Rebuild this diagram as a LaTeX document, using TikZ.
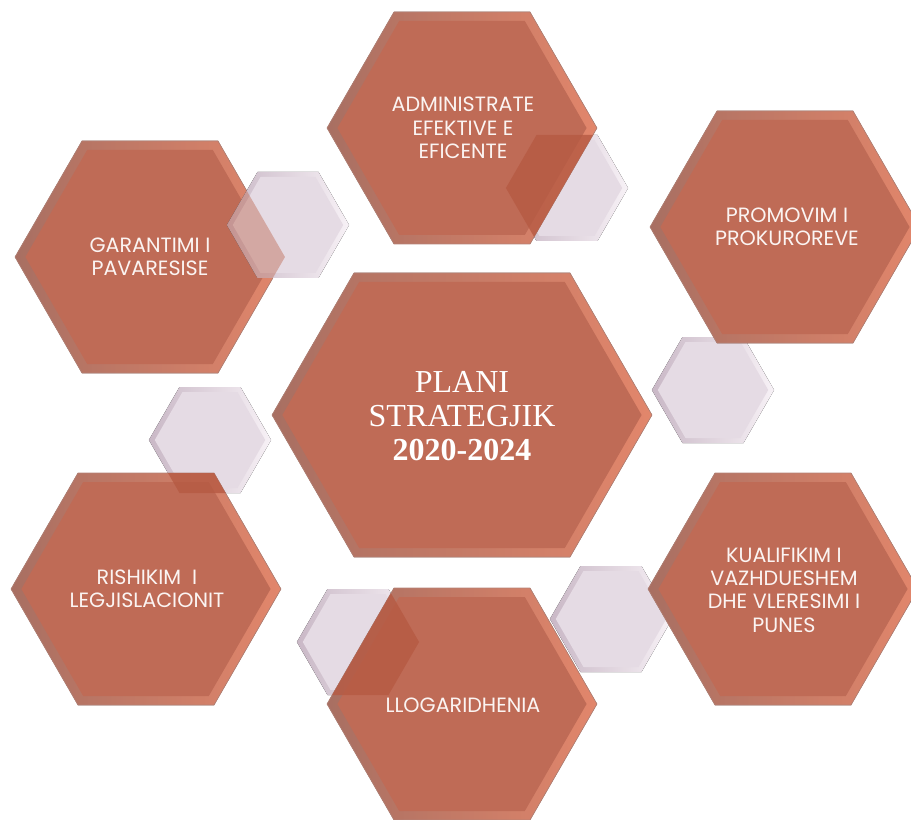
\documentclass[tikz,border=0pt]{standalone}
\usepackage{fontspec}
\setmainfont{Liberation Serif}
\newfontfamily\gothic{Poppins}
\definecolor{redMain}{HTML}{BF6B56}
\definecolor{redDark}{HTML}{A86F62}
\definecolor{redLight}{HTML}{E2866B}
\definecolor{redEdge}{HTML}{B48276}
\definecolor{ovlRed}{HTML}{B65A43}
\definecolor{lavMain}{HTML}{E5DBE4}
\definecolor{lavDark}{HTML}{C9B8C6}
\definecolor{lavLight}{HTML}{F7F1F6}
\definecolor{textW}{HTML}{FBF4F2}
% hexagon path: centre (cx,cy), half top edge a, half height hh
\newcommand\hexpath[4]{({#1-(#3)-0.57735*(#4)},{#2}) -- ({#1-(#3)},{#2-(#4)}) -- ({#1+(#3)},{#2-(#4)}) -- ({#1+(#3)+0.57735*(#4)},{#2}) -- ({#1+(#3)},{#2+(#4)}) -- ({#1-(#3)},{#2+(#4)}) -- cycle}
\newcommand\redhex[4]{%
  \fill[left color=redDark,right color=redLight] \hexpath{#1}{#2}{#3}{#4};
  \draw[redEdge,line width=0.5] \hexpath{#1}{#2}{#3}{#4};
  \fill[redMain] \hexpath{#1}{#2}{#3-5.2}{#4-9};
}
\newcommand\lavhex[2]{%
  \fill[left color=lavDark,right color=lavLight] \hexpath{#1}{#2}{30.5}{53};
  \fill[lavMain] \hexpath{#1}{#2}{27.5}{48};
}
\tikzset{
  lab/.style={align=center,text=textW,font=\gothic\fontsize{15.5}{17.5}\selectfont,inner sep=0pt},
  mainlab/.style={align=center,text=white,font=\fontsize{24}{25.5}\selectfont,inner sep=0pt}
}
\begin{document}
\begin{tikzpicture}[x=0.75pt,y=-0.75pt]
\useasboundingbox (0,0) rectangle (911,820);
% small lavender hexagons behind
\lavhex{567}{188}
\lavhex{713}{390}
\lavhex{210}{440}
\lavhex{358}{642}
\lavhex{611}{619}
% red hexagons
\redhex{462}{415}{108}{142}
\redhex{462}{128}{68}{116}
\redhex{150}{257}{68}{116}
\redhex{785}{227}{68}{116}
\redhex{146}{589}{68}{116}
\redhex{462}{704}{68}{116}
\redhex{783}{589}{68}{116}
% darker overlaps
\begin{scope}
  \clip \hexpath{567}{188}{30.5}{53};
  \fill[ovlRed,opacity=0.8] \hexpath{462}{128}{68}{116};
\end{scope}
\begin{scope}
  \clip \hexpath{210}{440}{30.5}{53};
  \fill[ovlRed,opacity=0.8] \hexpath{146}{589}{68}{116};
\end{scope}
\begin{scope}
  \clip \hexpath{358}{642}{30.5}{53};
  \fill[ovlRed,opacity=0.8] \hexpath{462}{704}{68}{116};
\end{scope}
% translucent lavender over GARANTIMI
\lavhex{288}{225}
\begin{scope}
  \clip \hexpath{288}{225}{30.5}{53};
  \fill[redMain,opacity=0.45] \hexpath{150}{257}{68}{116};
\end{scope}
% labels
\node[mainlab] (plan) at (462,416) {PLANI\\STRATEGJIK\\\textbf{2020-2024}};
\node[lab] (admin) at (463,128) {ADMINISTRATE\\EFEKTIVE E\\EFICENTE};
\node[lab] (garant) at (150,257) {GARANTIMI I\\PAVARESISE};
\node[lab] (promo) at (787,227) {PROMOVIM I\\PROKUROREVE};
\node[lab] (rishik) at (147,589) {RISHIKIM~~I\\LEGJISLACIONIT};
\node[lab] (llog) at (463,705) {LLOGARIDHENIA};
\node[lab] (kual) at (784,590) {KUALIFIKIM I\\VAZHDUESHEM\\DHE VLERESIMI I\\PUNES};
\end{tikzpicture}
\end{document}
